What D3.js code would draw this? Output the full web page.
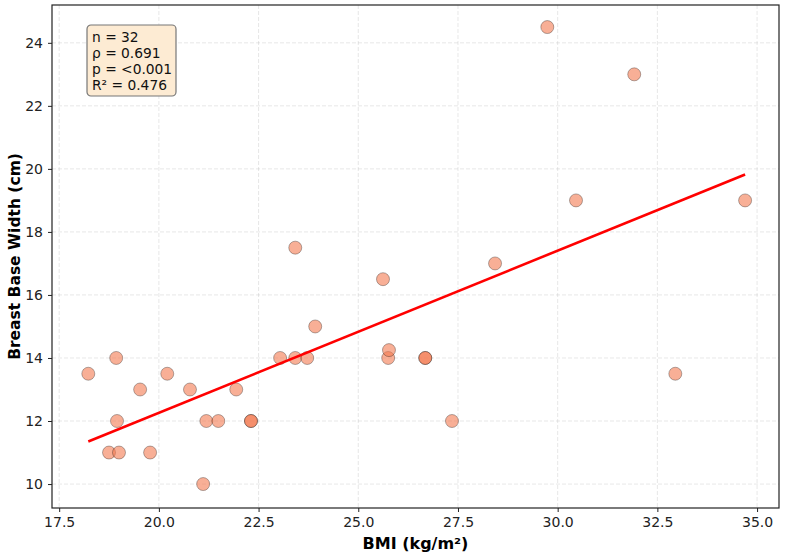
<!DOCTYPE html>
<html>
<head>
<meta charset="utf-8">
<script src="https://cdn.jsdelivr.net/npm/d3@7"></script>
<style>
  body { margin: 0; background: #fff; }
  svg { font-family: "DejaVu Sans", sans-serif; }
</style>
</head>
<body>
<svg id="chart" width="787" height="555"></svg>
<script>
// BMI vs breast base width, one entry per patient
const bmi = [18.23, 18.75, 18.93, 18.95, 19.0, 19.53, 19.78, 20.21, 20.78, 21.11,
  21.19, 21.49, 21.94, 22.31, 22.31, 23.04, 23.42, 23.42, 23.72, 23.92,
  25.62, 25.75, 25.77, 26.68, 26.68, 27.35, 28.43, 29.74, 30.46, 31.92,
  32.95, 34.7];
const width = [13.5, 11, 14, 12, 11, 13, 11, 13.5, 13, 10,
  12, 12, 13, 12, 12, 14, 17.5, 14, 14, 15,
  16.5, 14, 14.25, 14, 14, 12, 17, 24.5, 19, 23,
  13.5, 19];
const xTicks = [17.5, 20, 22.5, 25, 27.5, 30, 32.5, 35];
const yTicks = [10, 12, 14, 16, 18, 20, 22, 24];
const statLines = ["n = 32", "\u03c1 = 0.691", "p = <0.001", "R\u00b2 = 0.476"];

const svg = d3.select("#chart");
const margin = { top: 5, right: 8, bottom: 47, left: 52 };
const W = 787 - margin.left - margin.right;
const H = 555 - margin.top - margin.bottom;

const g = svg.append("g").attr("transform", `translate(${margin.left},${margin.top})`);

const x = d3.scaleLinear().domain([17.32, 35.55]).range([0, W]);
const y = d3.scaleLinear().domain([9.24, 25.2]).range([H, 0]);

// grid
g.append("g").selectAll("line").data(xTicks).join("line")
  .attr("x1", d => x(d)).attr("x2", d => x(d)).attr("y1", 0).attr("y2", H)
  .attr("stroke", "#b0b0b0").attr("stroke-opacity", 0.3).attr("stroke-dasharray", "4,2");
g.append("g").selectAll("line").data(yTicks).join("line")
  .attr("y1", d => y(d)).attr("y2", d => y(d)).attr("x1", 0).attr("x2", W)
  .attr("stroke", "#b0b0b0").attr("stroke-opacity", 0.3).attr("stroke-dasharray", "4,2");

// axes
const xAxis = g.append("g").attr("transform", `translate(0,${H})`)
  .call(d3.axisBottom(x).tickValues(xTicks).tickFormat(d3.format(".1f")).tickSizeOuter(0).tickSize(4).tickPadding(5));
const yAxis = g.append("g")
  .call(d3.axisLeft(y).tickValues(yTicks).tickSizeOuter(0).tickSize(4).tickPadding(5));
[xAxis, yAxis].forEach(a => {
  a.select(".domain").remove();
  a.selectAll("text").attr("font-size", 14).attr("fill", "#222").attr("font-family", "DejaVu Sans");
  a.selectAll("line").attr("stroke", "#222");
});

// regression line (least squares)
const mx = d3.mean(bmi), my = d3.mean(width);
const slope = d3.sum(bmi, (v, i) => (v - mx) * (width[i] - my)) / d3.sum(bmi, v => (v - mx) ** 2);
const icpt = my - slope * mx;
const [xmin, xmax] = d3.extent(bmi);

// points
g.append("g").selectAll("circle").data(bmi).join("circle")
  .attr("cx", d => x(d))
  .attr("cy", (d, i) => y(width[i]))
  .attr("r", 6.5)
  .attr("fill", "#f47a50")
  .attr("fill-opacity", 0.6)
  .attr("stroke", "#000")
  .attr("stroke-opacity", 0.5)
  .attr("stroke-width", 0.6);

g.append("line")
  .attr("x1", x(xmin)).attr("y1", y(icpt + slope * xmin))
  .attr("x2", x(xmax)).attr("y2", y(icpt + slope * xmax))
  .attr("stroke", "red").attr("stroke-width", 2.6);

// frame
g.append("rect").attr("width", W).attr("height", H)
  .attr("fill", "none").attr("stroke", "#222").attr("stroke-width", 1.2);

// stats box
const box = g.append("g").attr("transform", "translate(35,20)");
box.append("rect").attr("width", 89).attr("height", 71).attr("rx", 4)
  .attr("fill", "#fdebd3").attr("stroke", "#777").attr("stroke-width", 1.2);
box.selectAll("text").data(statLines).join("text")
  .attr("x", 5).attr("y", (d, i) => 17 + i * 16)
  .attr("font-size", 13.8).attr("fill", "#111")
  .text(d => d);

// axis labels
svg.append("text")
  .attr("x", margin.left + W / 2).attr("y", 549)
  .attr("text-anchor", "middle").attr("font-size", 16).attr("font-weight", "bold")
  .text("BMI (kg/m\u00b2)");
svg.append("text")
  .attr("transform", `translate(20,${margin.top + H / 2}) rotate(-90)`)
  .attr("text-anchor", "middle").attr("font-size", 15.5).attr("font-weight", "bold")
  .text("Breast Base Width (cm)");
</script>
</body>
</html>
